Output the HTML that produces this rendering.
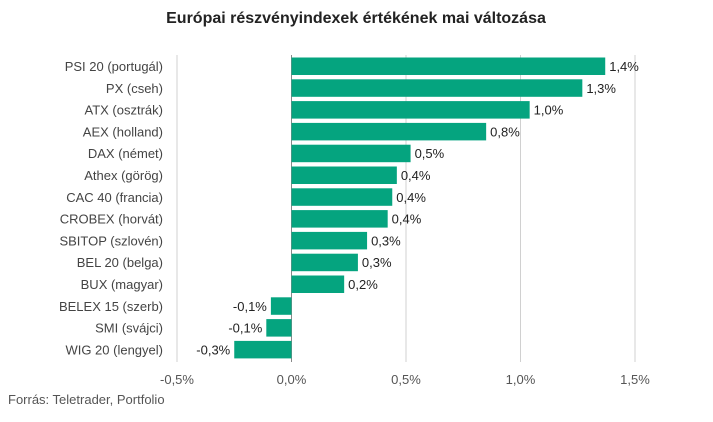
<!DOCTYPE html>
<html><head><meta charset="utf-8"><style>
body{margin:0;background:#fff;font-family:"Liberation Sans",sans-serif}
svg text{font-family:"Liberation Sans",sans-serif}
</style></head><body>
<svg width="713" height="417">
<text x="356" y="23" text-anchor="middle" font-size="16" font-weight="bold" fill="#222">Európai részvényindexek értékének mai változása</text>
<g id="grid"></g><g id="bars"></g>
<text x="8" y="404" font-size="13" fill="#555">Forrás: Teletrader, Portfolio</text>
</svg>
<script>
const categories=["PSI 20 (portugál)","PX (cseh)","ATX (osztrák)","AEX (holland)","DAX (német)","Athex (görög)","CAC 40 (francia)","CROBEX (horvát)","SBITOP (szlovén)","BEL 20 (belga)","BUX (magyar)","BELEX 15 (szerb)","SMI (svájci)","WIG 20 (lengyel)"];
const values=[1.37,1.27,1.04,0.85,0.52,0.46,0.44,0.42,0.33,0.29,0.23,-0.09,-0.11,-0.25];
const labels=["1,4%","1,3%","1,0%","0,8%","0,5%","0,4%","0,4%","0,4%","0,3%","0,3%","0,2%","-0,1%","-0,1%","-0,3%"];
const ticks=[-0.5,0,0.5,1,1.5];
const tickLabels=["-0,5%","0,0%","0,5%","1,0%","1,5%"];
const NS="http://www.w3.org/2000/svg";
const x=v=>291.5+v*229;
const y=i=>57.5+i*21.8;
const bh=17.5;
function mk(t,a,p){const e=document.createElementNS(NS,t);for(const k in a)e.setAttribute(k,a[k]);p.appendChild(e);return e;}
const g=document.getElementById('grid'),b=document.getElementById('bars');
ticks.forEach((t,i)=>{
 const l=mk('line',{x1:x(t),x2:x(t),y1:55,y2:362,stroke:t===0?'#888':'#d0d0d0','stroke-width':1},g);
 
 
 const tx=mk('text',{x:x(t),y:384,'text-anchor':'middle','font-size':13,fill:'#555'},g);
 tx.textContent=tickLabels[i];
 
 
});
categories.forEach((c,i)=>{
 const v=values[i];
 const r=mk('rect',{x:Math.min(x(0),x(v)),y:y(i),width:Math.abs(x(v)-x(0)),height:bh,fill:'#05a47f'},b);
 
 
 const cl=mk('text',{x:163,y:y(i)+13.5,'text-anchor':'end','font-size':13,fill:'#444'},b);
 cl.textContent=c;
 
 
 const vl=mk('text',{x:v>=0?x(v)+4:x(v)-4,y:y(i)+13.5,'text-anchor':v>=0?'start':'end','font-size':13,fill:'#222'},b);
 vl.textContent=labels[i];
 
 
});
</script>
</body></html>
